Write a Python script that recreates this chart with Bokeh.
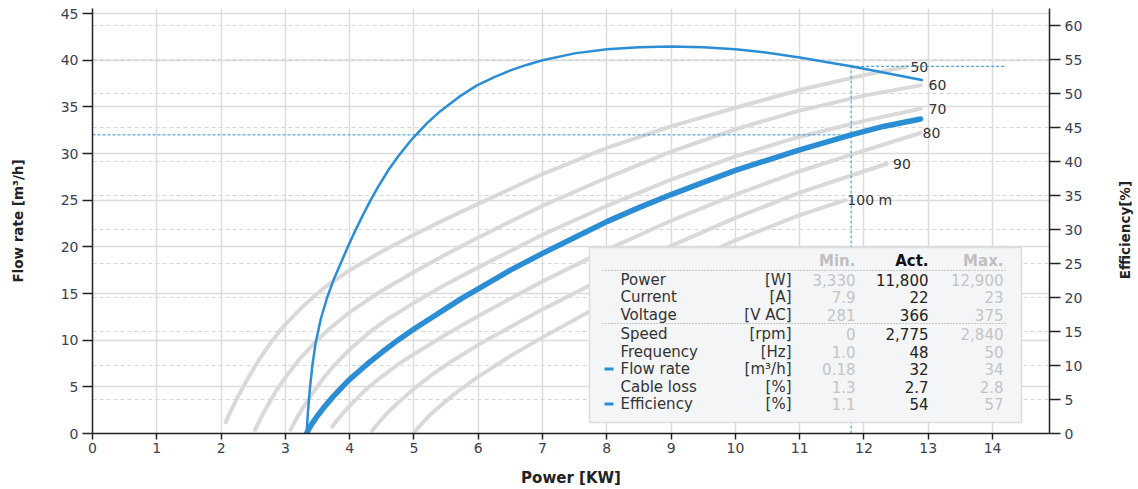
import math
from bokeh.plotting import figure
from bokeh.layouts import row
from bokeh.models import Range1d, LinearAxis, FixedTicker, Grid
from bokeh.core.properties import value
from bokeh.embed import file_html
from bokeh.resources import INLINE

# ---------------- data ----------------
power_eff = [3.33, 3.35, 3.38, 3.42, 3.47, 3.55, 3.65, 3.75, 3.86, 3.96, 4.07, 4.2, 4.32,
             4.45, 4.6, 4.75, 4.97, 5.2, 5.41, 5.7, 5.98, 6.25, 6.5, 6.75, 7.0, 7.5, 8.0,
             8.5, 9.0, 9.5, 10.0, 10.5, 11.0, 11.5, 11.8, 12.3, 12.9]
efficiency = [0, 3.0, 6.5, 10.0, 13.3, 16.8, 20.0, 22.6, 25.0, 27.2, 29.5, 32.0, 34.2,
              36.4, 38.7, 40.7, 43.3, 45.6, 47.4, 49.5, 51.2, 52.4, 53.4, 54.2, 54.9, 55.9,
              56.5, 56.8, 56.9, 56.8, 56.5, 56.0, 55.3, 54.5, 54.0, 53.1, 52.0]

power_flow = [3.33, 3.36, 3.4, 3.45, 3.5, 3.6, 3.75, 3.9, 4.0, 4.15, 4.3, 4.5, 4.75, 5.0,
              5.25, 5.5, 5.75, 6.0, 6.5, 7.0, 7.5, 8.0, 8.5, 9.0, 9.5, 10.0, 10.5, 11.0,
              11.4, 11.8, 12.3, 12.88]
flow_rate = [0, 0.4, 0.9, 1.4, 1.9, 2.8, 4.0, 5.1, 5.8, 6.7, 7.6, 8.7, 10.0, 11.2,
             12.3, 13.4, 14.5, 15.5, 17.5, 19.3, 21.0, 22.7, 24.2, 25.6, 26.9, 28.2, 29.3,
             30.4, 31.2, 32.0, 32.9, 33.7]

head_labels = ["50", "60", "70", "80", "90", "100 m"]
h50_power = [2.07, 2.15, 2.25, 2.4, 2.6, 2.8, 3.0, 3.3, 3.6, 4.0, 4.5, 5.0, 5.5, 6.0, 7.0,
             8.0, 9.0, 10.0, 11.0, 12.0, 12.66]
h50_flow = [1.2, 2.4, 3.8, 5.7, 8.0, 10.0, 11.7, 13.8, 15.6, 17.5, 19.5, 21.3, 23.0, 24.6,
            27.8, 30.6, 32.9, 34.9, 36.8, 38.4, 39.3]
h60_power = [2.53, 2.6, 2.7, 2.85, 3.0, 3.2, 3.45, 3.7, 4.0, 4.5, 5.0, 5.5, 6.0, 7.0, 8.0,
             9.0, 10.0, 11.0, 12.0, 12.88]
h60_flow = [0.4, 1.4, 2.7, 4.5, 6.0, 7.8, 9.7, 11.3, 13.0, 15.3, 17.3, 19.2, 21.0, 24.4,
            27.4, 30.2, 32.6, 34.6, 36.2, 37.3]
h70_power = [3.08, 3.15, 3.25, 3.4, 3.6, 3.8, 4.0, 4.3, 4.6, 5.0, 5.5, 6.0, 7.0, 8.0, 9.0,
             10.0, 11.0, 12.0, 12.88]
h70_flow = [0.4, 1.3, 2.5, 4.1, 6.0, 7.6, 9.0, 10.8, 12.3, 14.0, 16.0, 17.8, 21.3, 24.4,
            27.2, 29.7, 31.8, 33.5, 34.8]
h80_power = [3.73, 3.8, 3.9, 4.05, 4.25, 4.5, 4.75, 5.0, 5.5, 6.0, 7.0, 8.0, 9.0, 10.0,
             11.0, 12.0, 12.88]
h80_flow = [0.75, 1.4, 2.2, 3.3, 4.7, 6.1, 7.4, 8.5, 10.6, 12.6, 16.3, 19.7, 22.8, 25.6,
            28.1, 30.3, 32.2]
h90_power = [4.35, 4.45, 4.6, 4.8, 5.0, 5.3, 5.6, 6.0, 6.5, 7.0, 8.0, 9.0, 10.0, 11.0,
             12.0, 12.36]
h90_flow = [0.3, 1.15, 2.3, 3.6, 4.8, 6.4, 7.8, 9.5, 11.4, 13.3, 16.8, 20.1, 23.1, 25.8,
            28.1, 28.9]
h100_power = [4.99, 5.1, 5.25, 5.45, 5.7, 6.0, 6.5, 7.0, 8.0, 9.0, 10.0, 11.0, 11.71]
h100_flow = [0, 0.9, 2.0, 3.2, 4.6, 6.1, 8.3, 10.3, 14.1, 17.6, 20.7, 23.4, 25.0]

table_headers = ["Min.", "Act.", "Max."]
table_names = ["Power", "Current", "Voltage", "Speed", "Frequency", "Flow rate", "Cable loss", "Efficiency"]
table_units = ["[W]", "[A]", "[V AC]", "[rpm]", "[Hz]", "[m³/h]", "[%]", "[%]"]
table_min = ["3,330", "7.9", "281", "0", "1.0", "0.18", "1.3", "1.1"]
table_act = ["11,800", "22", "366", "2,775", "48", "32", "2.7", "54"]
table_max = ["12,900", "23", "375", "2,840", "50", "34", "2.8", "57"]

x_ticks = list(range(0, 15))
flow_ticks = list(range(0, 46, 5))
eff_ticks = list(range(0, 61, 5))

x_title = "Power [KW]"
flow_title = "Flow rate [m³/h]"
eff_title = "Efficiency[%]"

# ---------------- styling / layout ----------------
BLUE = "#2b8ed5"
GRAY = "#d9d9d9"
FONT = value("DejaVu Sans")

# pixel -> data helpers (layout only)
X0, XS = 92.0, 64.29
Y0, YS = 433.0, 9.333


def dx(px):
    return (px - X0) / XS


def dy(py):
    return (Y0 - py) / YS


p = figure(width=1110, height=489, output_backend="svg", toolbar_location=None,
           x_range=Range1d(0, 957 / XS), y_range=Range1d(0, 425 / YS),
           min_border_left=92, min_border_right=61, min_border_top=8, min_border_bottom=56)
p.extra_y_ranges = {"eff": Range1d(0, 425 / 6.8)}
p.outline_line_color = None
p.background_fill_color = "white"
p.border_fill_color = "white"


def style_axis(ax, tick_out):
    ax.axis_line_color = "#222222"
    ax.axis_line_width = 1.5
    ax.major_tick_line_color = "#222222"
    ax.major_tick_line_width = 1.5
    ax.major_tick_out = tick_out
    ax.major_tick_in = 0
    ax.minor_tick_line_color = None
    ax.major_label_text_font = "DejaVu Sans"
    ax.major_label_text_font_size = "14px"
    ax.major_label_text_color = "#3d3d4d"
    ax.axis_label_text_font = "DejaVu Sans"
    ax.axis_label_text_font_style = "bold"
    ax.axis_label_text_color = "#222222"


xa = p.xaxis[0]
xa.ticker = FixedTicker(ticks=x_ticks)
xa.axis_label = x_title
style_axis(xa, 6)
xa.major_label_standoff = 3
xa.axis_label_standoff = 13
xa.axis_label_text_font_size = "15px"

ya = p.yaxis[0]
ya.ticker = FixedTicker(ticks=flow_ticks)
ya.axis_label = flow_title
style_axis(ya, 10)
ya.major_label_standoff = 4
ya.axis_label_standoff = 32
ya.axis_label_text_font_size = "13.5px"

ra = LinearAxis(y_range_name="eff", ticker=FixedTicker(ticks=eff_ticks))
style_axis(ra, 11)
ra.major_label_standoff = 4
p.add_layout(ra, "right")

# grids
p.xgrid.ticker = FixedTicker(ticks=x_ticks)
p.xgrid.grid_line_color = "#dcdcdc"
p.xgrid.grid_line_width = 1.5
p.ygrid.ticker = FixedTicker(ticks=flow_ticks)
p.ygrid.grid_line_color = "#dcdcdc"
p.ygrid.grid_line_width = 1.5
eff_grid = Grid(dimension=1, ticker=FixedTicker(ticks=eff_ticks), y_range_name="eff",
                grid_line_color="#d6d6d6", grid_line_dash="4 3", grid_line_width=1)
p.add_layout(eff_grid)

# head curves
heads = [(h50_power, h50_flow), (h60_power, h60_flow), (h70_power, h70_flow),
         (h80_power, h80_flow), (h90_power, h90_flow), (h100_power, h100_flow)]
for xs, ys in heads:
    p.line(xs, ys, line_color=GRAY, line_width=4, line_cap="round", line_join="round")

label_offsets = [4, 8, 8, 2, 6, 2]
for (xs, ys), lab, off in zip(heads, head_labels, label_offsets):
    p.text(x=[xs[-1]], y=[ys[-1]], text=[lab], x_offset=off, text_align="left",
           text_baseline="middle", text_font=FONT, text_font_size="14px", text_color="#333333")

# operating point crosshair
act_power = float(table_act[0].replace(",", "")) / 1000.0
act_flow = float(table_act[5])
act_eff = float(table_act[7])
p.line([0, act_power], [act_flow, act_flow], line_color=BLUE, line_width=1, line_dash="3 2")
p.line([act_power, act_power], [0, act_eff], y_range_name="eff", line_color=BLUE,
       line_width=1, line_dash="3 2")
p.line([act_power, dx(1005)], [act_eff, act_eff], y_range_name="eff", line_color=BLUE,
       line_width=1, line_dash="3 2")

# main curves
p.line(power_eff, efficiency, y_range_name="eff", line_color=BLUE, line_width=2.5,
       line_cap="round", line_join="round")
p.line(power_flow, flow_rate, line_color=BLUE, line_width=5.5, line_cap="round",
       line_join="round")

# ---------------- table box ----------------
p.quad(left=[dx(589)], right=[dx(1021)], top=[dy(247)], bottom=[dy(422)],
       fill_color="#f4f5f7", line_color="#dcdde1", line_width=1.5)

p.segment(x0=[dx(602), dx(602)], x1=[dx(1005), dx(1005)], y0=[dy(270), dy(323)],
          y1=[dy(270), dy(323)], line_color="#9a9a9a", line_width=1, line_dash="1 2")

col_min, col_act, col_max = dx(855), dx(928), dx(1003)
head_y = dy(260)
hdr_colors = ["#c0c0c0", "#111111", "#c0c0c0"]
for cx, txt, col in zip([col_min, col_act, col_max], table_headers, hdr_colors):
    p.text(x=[cx], y=[head_y], text=[txt], text_align="right", text_baseline="middle",
           text_font=FONT, text_font_size="15px", text_font_style="bold", text_color=col)

row_y = [dy(279 + i * 17.5 + (2 if i >= 3 else 0)) for i in range(len(table_names))]
n = len(table_names)
p.text(x=[dx(620)] * n, y=row_y, text=table_names, text_align="left", text_baseline="middle",
       text_font=FONT, text_font_size="15px", text_color="#333333")
p.text(x=[dx(791)] * n, y=row_y, text=table_units, text_align="right", text_baseline="middle",
       text_font=FONT, text_font_size="15px", text_color="#333333")
p.text(x=[col_min] * n, y=row_y, text=table_min, text_align="right", text_baseline="middle",
       text_font=FONT, text_font_size="15px", text_color="#c4c4c4")
p.text(x=[col_act] * n, y=row_y, text=table_act, text_align="right", text_baseline="middle",
       text_font=FONT, text_font_size="15px", text_color="#222222")
p.text(x=[col_max] * n, y=row_y, text=table_max, text_align="right", text_baseline="middle",
       text_font=FONT, text_font_size="15px", text_color="#c4c4c4")

marker_rows = [table_names.index("Flow rate"), table_names.index("Efficiency")]
p.segment(x0=[dx(604)] * 2, x1=[dx(613)] * 2, y0=[row_y[i] for i in marker_rows],
          y1=[row_y[i] for i in marker_rows], line_color=BLUE, line_width=3)

# ---------------- right-hand title strip (reads bottom-to-top) ----------------
side = figure(width=28, height=489, output_backend="svg", toolbar_location=None,
              x_range=Range1d(0, 28), y_range=Range1d(0, 489), min_border=0)
side.axis.visible = False
side.grid.visible = False
side.outline_line_color = None
side.background_fill_color = "white"
side.border_fill_color = "white"
side.text(x=[14], y=[489 - 255], text=[eff_title], angle=math.pi / 2, text_align="center",
          text_baseline="middle", text_font=FONT, text_font_size="13.5px",
          text_font_style="bold", text_color="#222222")

layout = row(p, side, spacing=0)
open("out.html", "w").write(file_html(layout, INLINE))
